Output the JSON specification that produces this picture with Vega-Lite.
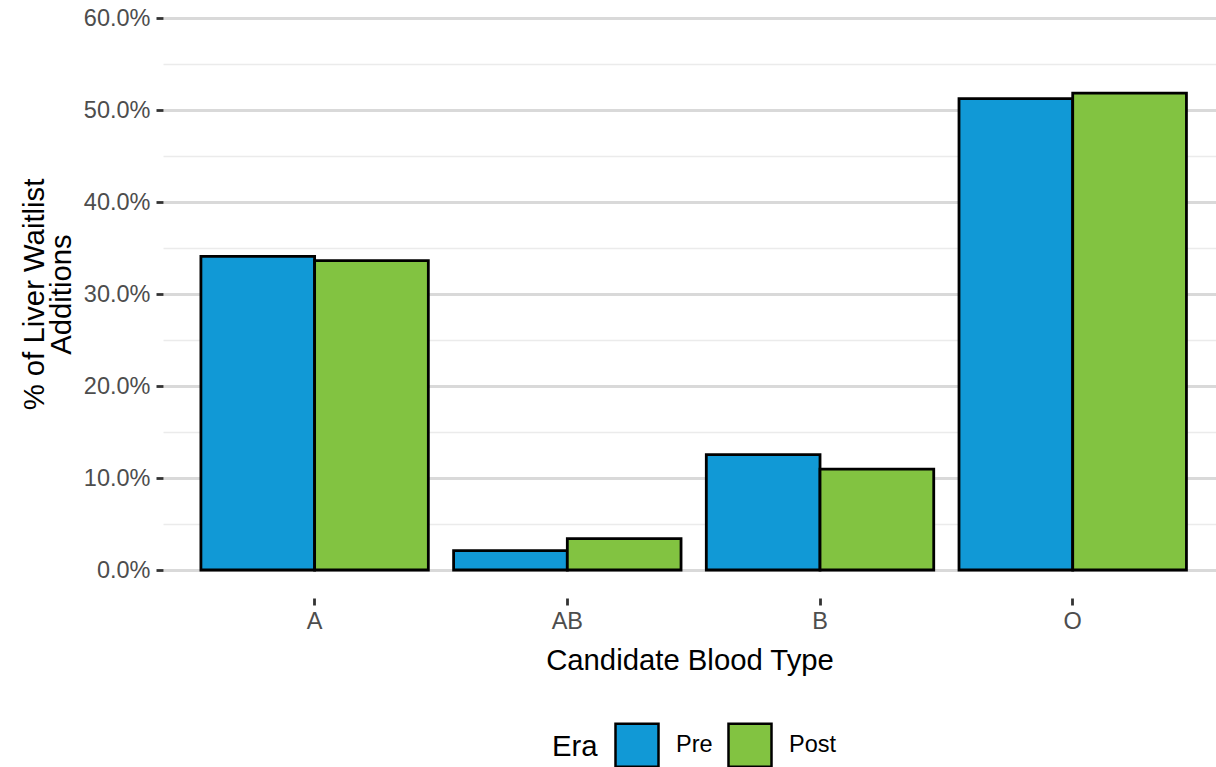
{
  "$schema": "https://vega.github.io/schema/vega-lite/v6.json",
  "autosize": {"type": "none"},
  "padding": {"left": 163, "top": 18, "right": 0, "bottom": 197},
  "width": 1053,
  "height": 552,
  "background": "white",
  "config": {
    "view": {"stroke": null},
    "font": "Liberation Sans"
  },
  "data": {
    "values": [
      {"type": "A", "era": "Pre", "pct": 0.3409},
      {"type": "A", "era": "Post", "pct": 0.3362},
      {"type": "AB", "era": "Pre", "pct": 0.0210},
      {"type": "AB", "era": "Post", "pct": 0.0340},
      {"type": "B", "era": "Pre", "pct": 0.1253},
      {"type": "B", "era": "Post", "pct": 0.1097},
      {"type": "O", "era": "Pre", "pct": 0.5123},
      {"type": "O", "era": "Post", "pct": 0.5184}
    ]
  },
  "mark": {"type": "bar", "stroke": "black", "strokeWidth": 2.8},
  "encoding": {
    "x": {
      "field": "type",
      "type": "nominal",
      "sort": ["A", "AB", "B", "O"],
      "scale": {"paddingInner": 0.1, "paddingOuter": 0.1335, "align": 0.5618},
      "axis": {
        "title": "Candidate Blood Type",
        "titleFontSize": 29.3,
        "titleFontWeight": "normal",
        "titleColor": "black",
        "titlePadding": 14,
        "labelAngle": 0,
        "labelFontSize": 23.5,
        "labelColor": "#4d4d4d",
        "labelPadding": 4,
        "tickColor": "#333333",
        "tickWidth": 2.8,
        "tickSize": 7,
        "offset": 28,
        "domain": false,
        "grid": false
      }
    },
    "xOffset": {
      "field": "era",
      "type": "nominal",
      "sort": ["Pre", "Post"],
      "scale": {"paddingInner": 0, "paddingOuter": 0}
    },
    "y": {
      "field": "pct",
      "type": "quantitative",
      "scale": {"domain": [0, 0.6], "nice": false},
      "axis": {
        "title": ["% of Liver Waitlist", "Additions"],
        "titleFontSize": 29.3,
        "titleFontWeight": "normal",
        "titleColor": "black",
        "titleLineHeight": 26.4,
        "titlePadding": 7,
        "values": [0, 0.05, 0.1, 0.15, 0.2, 0.25, 0.3, 0.35, 0.4, 0.45, 0.5, 0.55, 0.6],
        "labelExpr": "round(datum.value*100) % 10 === 0 ? format(datum.value, '.1%') : ''",
        "labelFontSize": 23.5,
        "labelColor": "#4d4d4d",
        "labelPadding": 6,
        "tickColor": "#333333",
        "tickWidth": 2.8,
        "tickSize": 7,
        "tickOpacity": {"condition": {"test": "round(datum.value*100) % 10 === 0", "value": 1}, "value": 0},
        "gridColor": {"condition": {"test": "round(datum.value*100) % 10 === 0", "value": "#d9d9d9"}, "value": "#ebebeb"},
        "gridWidth": {"condition": {"test": "round(datum.value*100) % 10 === 0", "value": 2.8}, "value": 1.4},
        "domain": false
      }
    },
    "fill": {
      "field": "era",
      "type": "nominal",
      "sort": ["Pre", "Post"],
      "scale": {"domain": ["Pre", "Post"], "range": ["#1199D6", "#82C341"]},
      "legend": {
        "title": "Era",
        "orient": "none",
        "legendX": 389,
        "legendY": 704,
        "direction": "horizontal",
        "titleOrient": "left",
        "titleFontSize": 29.3,
        "titleFontWeight": "normal",
        "titleColor": "black",
        "titlePadding": 16,
        "labelFontSize": 23.5,
        "labelColor": "black",
        "labelOffset": 16,
        "columnPadding": 10,
        "symbolType": "square",
        "symbolSize": 1849,
        "symbolStrokeColor": "black",
        "symbolStrokeWidth": 2.5,
        "symbolOpacity": 1
      }
    }
  }
}
